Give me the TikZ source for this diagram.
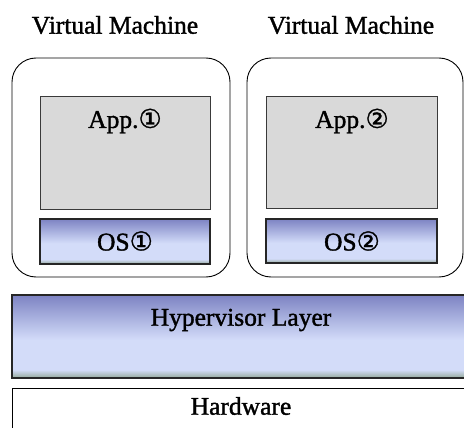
\documentclass[tikz,border=0pt]{standalone}
\usepackage{fontspec}
\setmainfont{Liberation Serif}[FakeBold=1.4]
\newfontfamily\circledfont{DejaVu Sans}[FakeBold=1.2]
\usetikzlibrary{positioning}

\definecolor{footgreen}{HTML}{93A899}
\definecolor{paleblue}{HTML}{D3DCF9}
\definecolor{topblue}{HTML}{7D83C3}
\definecolor{appgrey}{HTML}{D9D9D9}
\definecolor{edgegrey}{HTML}{3A3A3A}

% blue layer shading: grey-green foot, pale blue body, darker blue-violet top
\pgfdeclareverticalshading{layershade}{100bp}{%
  color(0bp)=(footgreen); color(25bp)=(footgreen); color(30bp)=(paleblue);
  color(48bp)=(paleblue); color(75bp)=(topblue); color(100bp)=(topblue)}

\newcommand{\cnum}[1]{{\circledfont\fontsize{26}{26}\selectfont #1}}

\begin{document}
\begin{tikzpicture}[x=1pt,y=-1pt,
  label text/.style={font=\fontsize{25.5}{28}\selectfont, inner sep=0pt},
  vmbox/.style={draw=black, line width=0.9pt, rounded corners=24pt},
  appbox/.style={draw=edgegrey, line width=0.9pt, fill=appgrey},
  layerbox/.style={draw=black!85, line width=1.1pt, shading=layershade},
  hwbox/.style={draw=black, line width=1pt, fill=white}]
  \useasboundingbox (0,0) rectangle (464,428);

  % virtual machine frames
  \draw[vmbox] (12,58) rectangle (230,277);
  \draw[vmbox] (247,58) rectangle (463,277);

  % applications
  \draw[appbox] (40,96) rectangle (210,209);
  \draw[appbox] (266,96) rectangle (437,208);

  % guest operating systems
  \draw[layerbox] (40,219) rectangle (210,264);
  \draw[layerbox] (266,219) rectangle (437,263);

  % hypervisor and hardware
  \draw[layerbox] (12,295) rectangle (470,378);
  \draw[hwbox] (12,388) rectangle (470,440);

  % labels
  \node[label text] (vm1) at (115,25) {Virtual Machine};
  \node[label text] (vm2) at (351,25) {Virtual Machine};
  \node[label text] (app1) at (125,121) {App.\cnum{①}};
  \node[label text] (app2) at (352,121) {App.\cnum{②}};
  \node[label text] (os1) at (125,241) {OS\cnum{①}};
  \node[label text] (os2) at (352,241) {OS\cnum{②}};
  \node[label text] (hyp) at (241,320) {Hypervisor Layer};
  \node[label text] (hw) at (241,406) {Hardware};
\end{tikzpicture}
\end{document}
